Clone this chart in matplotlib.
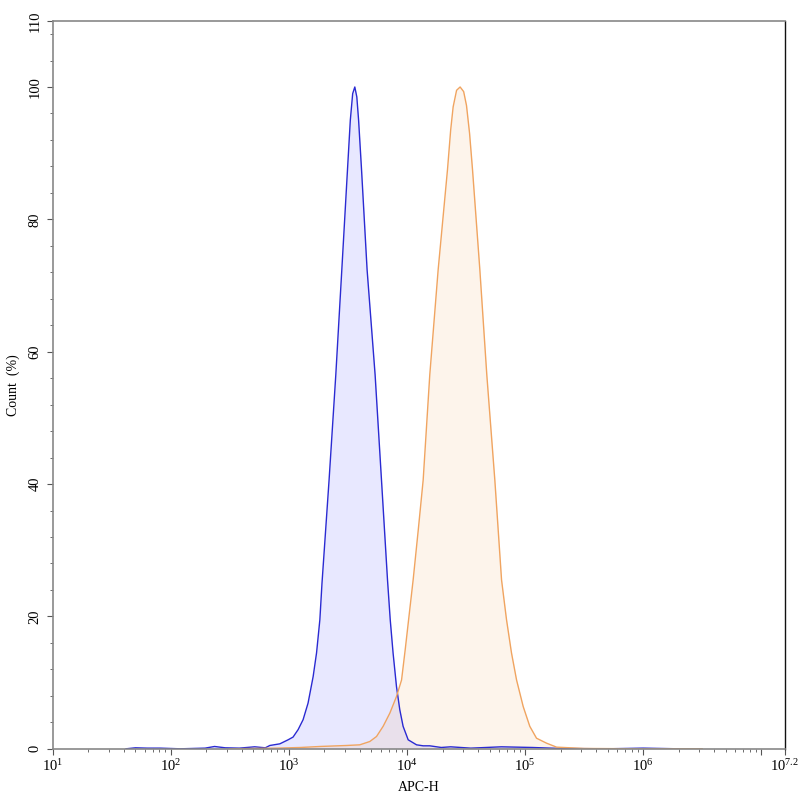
import matplotlib.pyplot as plt
import numpy as np
from matplotlib.ticker import FixedLocator, NullFormatter

# histogram traces: log10(APC-H) and count (%)
blue_log = [1.62, 1.70, 1.80, 1.91, 2.08, 2.29, 2.37, 2.46, 2.58, 2.71, 2.80,
            2.838, 2.923, 2.993, 3.035, 3.078, 3.120, 3.162, 3.205, 3.234,
            3.262, 3.28, 3.340, 3.397, 3.448, 3.496, 3.52, 3.54, 3.558,
            3.575, 3.59, 3.615, 3.662, 3.730, 3.784, 3.835, 3.858, 3.882,
            3.911, 3.939, 3.967, 4.010, 4.081, 4.137, 4.193, 4.29, 4.37,
            4.54, 4.80, 5.06, 5.30, 5.70, 6.00, 6.30]
blue_cnt = [0.0, 0.15, 0.1, 0.1, 0.0, 0.1, 0.35, 0.15, 0.1, 0.3, 0.15,
            0.5, 0.75, 1.36, 1.77, 2.9, 4.4, 6.9, 10.9, 14.5,
            19.5, 25.0, 40.6, 56.5, 72.4, 87.5, 95.0, 99.0, 100.0,
            98.5, 95.0, 87.5, 72.4, 56.5, 40.6, 25.5, 19.5, 14.5,
            9.4, 5.9, 3.4, 1.36, 0.6, 0.45, 0.45, 0.2, 0.3,
            0.1, 0.3, 0.2, 0.05, 0.0, 0.1, 0.0]

orange_log = [2.50, 2.90, 3.10, 3.262, 3.488, 3.600, 3.685, 3.742, 3.798,
              3.855, 3.911, 3.954, 3.985, 4.020, 4.052, 4.095, 4.137, 4.193,
              4.264, 4.343, 4.370, 4.391, 4.42, 4.45, 4.48, 4.504, 4.530,
              4.555, 4.617, 4.676, 4.744, 4.801, 4.843, 4.885, 4.928, 4.984,
              5.040, 5.097, 5.182, 5.267, 5.50, 6.00, 6.50]
orange_cnt = [0.0, 0.1, 0.2, 0.35, 0.5, 0.6, 1.1, 1.86, 3.4,
              5.4, 7.9, 10.4, 15.0, 20.5, 25.5, 33.0, 40.6, 56.5,
              72.4, 87.5, 93.5, 97.0, 99.5, 100.0, 99.3, 97.2, 93.0,
              87.5, 72.4, 56.5, 40.6, 25.5, 19.5, 14.5, 10.4, 6.4,
              3.4, 1.6, 0.85, 0.25, 0.05, 0.0, 0.0]

x_major = [1, 2, 3, 4, 5, 6, 7, 7.2]
x_labels = ['$10^{1}$', '$10^{2}$', '$10^{3}$', '$10^{4}$', '$10^{5}$',
            '$10^{6}$', '', '$10^{7.2}$']
y_major = [0, 20, 40, 60, 80, 100, 110]

plt.rcParams['font.family'] = ['Liberation Serif', 'DejaVu Serif']
plt.rcParams['mathtext.fontset'] = 'custom'
plt.rcParams['mathtext.rm'] = 'Liberation Serif'
plt.rcParams['mathtext.it'] = 'Liberation Serif'

fig = plt.figure(figsize=(8, 8), dpi=100)
ax = fig.add_axes([0.066, 0.064, 0.915, 0.91])

ax.fill_between(blue_log, blue_cnt, 0, color='#0000ff', alpha=0.09, lw=0)
ax.plot(blue_log, blue_cnt, color='#2a2ad2', lw=1.0)
ax.fill_between(orange_log, orange_cnt, 0, color='#f5a050', alpha=0.11, lw=0)
ax.plot(orange_log, orange_cnt, color='#f0a460', lw=1.0)

ax.set_xlim(1, 7.2)
ax.set_ylim(0, 110)

ax.set_xticks(x_major)
ax.set_xticklabels(x_labels)
minor = [d + np.log10(m) for d in range(1, 8) for m in range(2, 10)
         if d + np.log10(m) < 7.2]
ax.xaxis.set_minor_locator(FixedLocator(minor))
ax.xaxis.set_minor_formatter(NullFormatter())

ax.set_yticks(y_major)
ax.set_yticklabels([str(v) for v in y_major], rotation=90, va='center')
ax.yaxis.set_minor_locator(FixedLocator([v for v in range(4, 110, 4)]))

ax.tick_params(axis='both', which='major', direction='out', length=4,
               width=0.8, color='#555555', labelsize=10.5, pad=3)
ax.tick_params(axis='both', which='minor', direction='out', length=2,
               width=0.6, color='#555555')
ax.tick_params(axis='y', which='major', pad=4)

for side in ['left', 'bottom', 'top']:
    ax.spines[side].set_color('#888888')
    ax.spines[side].set_linewidth(1.2)
ax.spines['right'].set_color('#111111')
ax.spines['right'].set_linewidth(1.0)

ax.set_xlabel('APC-H', fontsize=10, labelpad=5)
ax.set_ylabel('Count  (%)', fontsize=10, labelpad=6)

plt.savefig('out.png', dpi=100)
